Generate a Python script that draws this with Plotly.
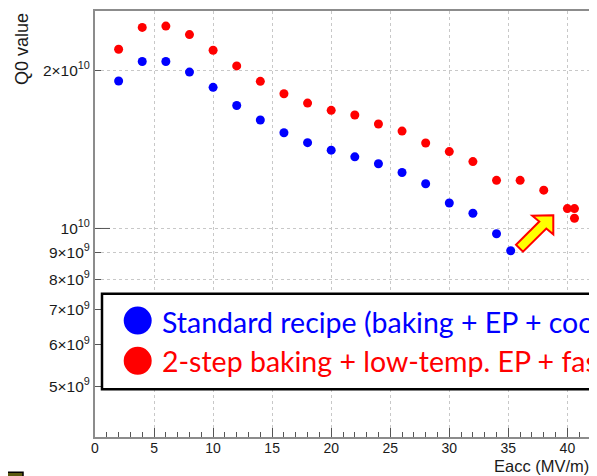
import plotly.graph_objects as go
import math

# ---- data ----
blue_x = [2, 4, 6, 8, 10, 12, 14, 16, 18, 20, 22, 24, 26, 28, 30, 32, 34, 35.2]
blue_q = [1.91e10, 2.08e10, 2.08e10, 1.986e10, 1.857e10, 1.715e10, 1.609e10, 1.522e10,
          1.457e10, 1.41e10, 1.369e10, 1.328e10, 1.278e10, 1.217e10, 1.118e10, 1.069e10,
          9.77e9, 9.07e9]
red_x = [2, 4, 6, 8, 10, 12, 14, 16, 18, 20, 22, 24, 26, 28, 30, 32, 34, 36, 38, 40, 40.6, 40.6]
red_q = [2.195e10, 2.416e10, 2.43e10, 2.341e10, 2.185e10, 2.04e10, 1.907e10, 1.806e10,
         1.733e10, 1.679e10, 1.645e10, 1.581e10, 1.533e10, 1.455e10, 1.401e10, 1.341e10,
         1.235e10, 1.235e10, 1.183e10, 1.091e10, 1.091e10, 1.046e10]

blue_label = "Standard recipe (baking + EP + cooldown)"
red_label = "2-step baking + low-temp. EP + fast cooldown"

x_tickvals = [0, 5, 10, 15, 20, 25, 30, 35, 40]
y_tickvals = [5e9, 6e9, 7e9, 8e9, 9e9, 1e10, 2e10]
y_ticktext = ["5×10<sup>9</sup>", "6×10<sup>9</sup>", "7×10<sup>9</sup>", "8×10<sup>9</sup>",
              "9×10<sup>9</sup>", "10<sup>10</sup>", "2×10<sup>10</sup>"]

x_range = [0, 42]
y_range_vals = [4.006e9, 2.596e10]
y_range = [math.log10(v) for v in y_range_vals]

# page body has an 8px margin: figure origin sits at screen (8, 8)
OFF = 8
W, H = 597 - OFF, 476 - OFF
ML, MR, MT, MB = 95 - OFF, 6, 1, 39
PW, PH = W - ML - MR, H - MT - MB


def px(xs):
    return (xs - OFF - ML) / PW


def py(ys):
    return (H - MB - (ys - OFF)) / PH


fig = go.Figure()
fig.add_trace(go.Scatter(x=blue_x, y=blue_q, mode="markers",
                         marker=dict(color="#0000ff", size=9), showlegend=False))
fig.add_trace(go.Scatter(x=red_x, y=red_q, mode="markers",
                         marker=dict(color="#ff0000", size=9), showlegend=False))

axis_common = dict(showline=True, linecolor="#8c8c8c", linewidth=2, mirror=True,
                   showgrid=True, gridcolor="#c8c8c8", griddash="dot", gridwidth=1,
                   zeroline=False, ticks="inside", tickcolor="#555")

fig.update_xaxes(range=x_range, tickvals=x_tickvals, ticklen=9, tickwidth=1,
                 ticklabelstandoff=-3,
                 tickfont=dict(family="Liberation Sans, Arial", size=14, color="#1a1a1a"),
                 minor=dict(dtick=1, ticks="inside", ticklen=5, tickcolor="#555", showgrid=False),
                 **axis_common)
fig.update_yaxes(type="log", range=y_range, tickvals=y_tickvals, ticktext=y_ticktext,
                 ticklen=6, tickwidth=1,
                 tickfont=dict(family="Liberation Sans, Arial", size=15.5, color="#1a1a1a"),
                 **axis_common)

shapes = []
# longer major tick at 10^10
y10 = (10 - y_range[0]) / (y_range[1] - y_range[0])
shapes.append(dict(type="line", xref="paper", yref="paper", x0=0, x1=15 / PW, y0=y10, y1=y10,
                   line=dict(color="#555", width=1)))
# legend box
shapes.append(dict(type="rect", xref="paper", yref="paper", x0=px(102), x1=px(610),
                   y0=py(389), y1=py(293), line=dict(color="black", width=2.5),
                   fillcolor="white", layer="above"))
for yc, col in [(320, "#0000ff"), (360.5, "#ff0000")]:
    shapes.append(dict(type="circle", xref="paper", yref="paper", xsizemode="pixel",
                       ysizemode="pixel", xanchor=px(137.7), yanchor=py(yc),
                       x0=-14, x1=14, y0=-14, y1=14, fillcolor=col,
                       line=dict(color=col, width=0), layer="above"))
# block arrow
arrow_pts = [(553.3, 214.3), (532.3, 214.7), (539.3, 220.5), (516.0, 243.8),
             (523.0, 250.8), (546.3, 227.5), (553.3, 233.3)]
path = "M " + " L ".join(f"{px(a):.5f},{py(b):.5f}" for a, b in arrow_pts) + " Z"
shapes.append(dict(type="path", xref="paper", yref="paper", path=path,
                   fillcolor="#ffff00", line=dict(color="#ff0000", width=2), layer="above"))
# small artifact bottom-left
shapes.append(dict(type="rect", xref="paper", yref="paper", x0=px(0), x1=px(23),
                   y0=py(480), y1=py(472.5), fillcolor="#5a5a10",
                   line=dict(color="black", width=1.5)))

annotations = [
    dict(text=blue_label, xref="paper", yref="paper", x=px(160), y=py(321),
         xanchor="left", yanchor="middle", showarrow=False,
         font=dict(family="Lato", size=28.5, color="#0000ff")),
    dict(text=red_label, xref="paper", yref="paper", x=px(160), y=py(361),
         xanchor="left", yanchor="middle", showarrow=False,
         font=dict(family="Lato", size=28.5, color="#ff0000")),
    dict(text="Q0 value", xref="paper", yref="paper", x=px(22), y=py(9),
         xanchor="center", yanchor="top", textangle=-90, showarrow=False,
         font=dict(family="Liberation Sans, Arial", size=18, color="#1a1a1a")),
    dict(text="Eacc (MV/m)", xref="paper", yref="paper", x=px(591), y=py(466),
         xanchor="right", yanchor="middle", showarrow=False,
         font=dict(family="Liberation Sans, Arial", size=16.5, color="#1a1a1a")),
]

fig.update_layout(width=W, height=H, margin=dict(l=ML, r=MR, t=MT, b=MB),
                  paper_bgcolor="white", plot_bgcolor="white",
                  shapes=shapes, annotations=annotations, showlegend=False)

fig.write_html("out.html")
